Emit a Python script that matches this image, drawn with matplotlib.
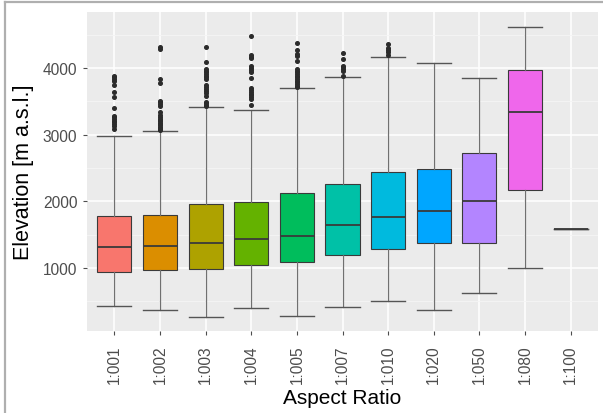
import matplotlib
matplotlib.use("Agg")
import matplotlib.pyplot as plt
from matplotlib.lines import Line2D
from matplotlib.ticker import MultipleLocator

plt.rcParams["font.family"] = ["Liberation Sans", "DejaVu Sans"]

# Aspect-ratio classes and elevation summaries (m a.s.l.)
categories = ["1:001", "1:002", "1:003", "1:004", "1:005", "1:007",
              "1:010", "1:020", "1:050", "1:080", "1:100"]
whisker_low = [425, 370, 265, 395, 275, 420, 500, 365, 620, 1000, 1590]
q1 = [945, 975, 985, 1050, 1090, 1195, 1280, 1370, 1370, 2170, 1590]
median = [1320, 1330, 1380, 1440, 1485, 1650, 1770, 1850, 2000, 3335, 1590]
q3 = [1785, 1800, 1960, 1995, 2130, 2260, 2445, 2485, 2730, 3975, 1590]
whisker_high = [2985, 3050, 3420, 3370, 3695, 3870, 4160, 4070, 3855, 4620, 1590]
outliers = [
    [3885, 3860, 3840, 3810, 3745, 3645, 3570, 3405, 3285, 3260, 3235,
     3210, 3185, 3160, 3135, 3085],
    [4310, 4290, 3835, 3770, 3510, 3485, 3460, 3435, 3335, 3300, 3270,
     3240, 3220, 3200, 3180, 3160, 3140, 3120, 3100, 3080, 3065],
    [4310, 4095, 3985, 3960, 3935, 3910, 3885, 3860, 3835, 3745, 3720,
     3690, 3660, 3630, 3585, 3495, 3470, 3445, 3425],
    [4475, 4195, 4170, 4145, 4035, 4005, 3975, 3945, 3845, 3695, 3670,
     3640, 3615, 3590, 3560, 3535, 3450],
    [4375, 4275, 4210, 4175, 4110, 3985, 3960, 3935, 3910, 3885, 3860,
     3835, 3810, 3785, 3760, 3735, 3710],
    [4225, 4130, 4035, 4010, 3985, 3960, 3885],
    [4360, 4295, 4265, 4235, 4195],
    [], [], [], [],
]
fill_colors = ["#F8766D", "#DB8E00", "#AEA200", "#64B200", "#00BD5C", "#00C1A7",
               "#00BADE", "#00A6FF", "#B385FF", "#EF67EB", "#FF63B6"]

stats = []
for i, name in enumerate(categories):
    stats.append(dict(label=name, whislo=whisker_low[i], q1=q1[i], med=median[i],
                      q3=q3[i], whishi=whisker_high[i], fliers=outliers[i]))

fig = plt.figure(figsize=(6.03, 4.14), dpi=100)
ax = fig.add_axes([0.1443, 0.198, 0.8474, 0.7706])
ax.set_facecolor("#EBEBEB")

positions = list(range(1, len(categories) + 1))
bp = ax.bxp(stats, positions=positions, widths=0.75, capwidths=0.75,
            patch_artist=True, showfliers=True,
            boxprops=dict(edgecolor="#3a3a3a", linewidth=0.8),
            medianprops=dict(color="#3a3a3a", linewidth=1.3),
            whiskerprops=dict(color="#707070", linewidth=0.9),
            capprops=dict(color="#555555", linewidth=1.0),
            flierprops=dict(marker="o", markersize=2.6, markerfacecolor="#2b2b2b",
                            markeredgecolor="#2b2b2b", linestyle="none"),
            zorder=3)
for patch, col in zip(bp["boxes"], fill_colors):
    patch.set_facecolor(col)

ax.set_xlim(0.4, len(categories) + 0.6)
ax.set_ylim(55, 4840)
ax.set_xticks(positions)
ax.set_xticklabels(categories, rotation=90)
ax.yaxis.set_major_locator(MultipleLocator(1000))
ax.yaxis.set_minor_locator(MultipleLocator(500))

ax.grid(True, which="major", color="white", linewidth=1.1, zorder=0)
ax.grid(True, which="minor", axis="y", color="#F5F5F5", linewidth=0.6, zorder=0)
ax.set_axisbelow(True)
for s in ax.spines.values():
    s.set_visible(False)

ax.tick_params(axis="both", which="major", length=3, width=0.8, color="#4d4d4d",
               labelcolor="#4d4d4d", labelsize=11.2, pad=4)
ax.tick_params(axis="x", which="major", pad=6.5)
ax.tick_params(axis="y", which="minor", length=0)

ax.set_xlabel("Aspect Ratio", fontsize=15, color="black", labelpad=4)
ax.set_ylabel("Elevation [m a.s.l.]", fontsize=15.5, color="black", labelpad=6)

# thin frame along the left and top edges of the figure
fig.add_artist(Line2D([5 / 603, 5 / 603], [0, 1 - 3 / 414], transform=fig.transFigure,
                      color="#AFAFAF", linewidth=1.6))
fig.add_artist(Line2D([5 / 603, 1], [1 - 3 / 414, 1 - 3 / 414], transform=fig.transFigure,
                      color="#AFAFAF", linewidth=1.6))

fig.savefig("out.png", dpi=100)
